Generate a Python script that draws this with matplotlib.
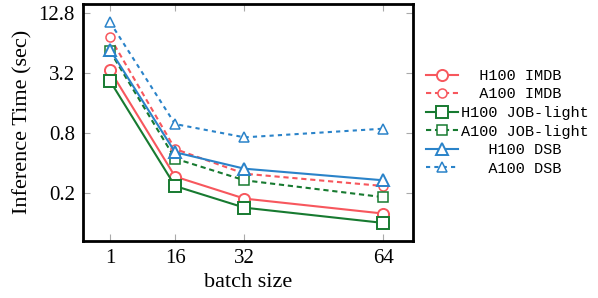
import matplotlib
matplotlib.use("Agg")
import matplotlib.pyplot as plt
from matplotlib.ticker import FixedLocator, FixedFormatter, NullLocator

batch = [1, 16, 32, 64]
h100_imdb = [3.4, 0.29, 0.174, 0.123]
a100_imdb = [7.3, 0.55, 0.31, 0.233]
h100_job = [2.66, 0.233, 0.141, 0.099]
a100_job = [5.3, 0.44, 0.266, 0.18]
h100_dsb = [5.5, 0.51, 0.348, 0.266]
a100_dsb = [10.4, 0.98, 0.72, 0.88]

yticks = [0.2, 0.8, 3.2, 12.8]
ytick_labels = ["0.2", "0.8", "3.2", "12.8"]

RED = "#f7575d"
GREEN = "#177a30"
BLUE = "#2a83c9"

fig = plt.figure(figsize=(5.98, 2.98), dpi=100)
ax = fig.add_axes([0.139, 0.191, 0.552, 0.797])

# (values, label, colour, line style, marker, marker size)
series = [
    (h100_imdb, "H100 IMDB", RED, "-", "o", 8),
    (a100_imdb, "A100 IMDB", RED, (0, (2.5, 1.8)), "o", 6.5),
    (h100_job, "H100 JOB-light", GREEN, "-", "s", 8),
    (a100_job, "A100 JOB-light", GREEN, (0, (2.5, 1.8)), "s", 6.5),
    (h100_dsb, "H100 DSB", BLUE, "-", "^", 8),
    (a100_dsb, "A100 DSB", BLUE, (0, (2.0, 2.0)), "^", 6.5),
]
for vals, lab, col, ls, mk, ms in series:
    dashed = ls != "-"
    ax.plot(batch, vals, color=col, linestyle=ls, linewidth=1.5,
            marker=mk, markersize=ms, markerfacecolor="white",
            markeredgecolor=col, markeredgewidth=1.1 if dashed else 1.4,
            label=lab.center(14))

ax.set_yscale("log", base=2)
ax.set_ylim(0.065, 16.0)
ax.set_xlim(-5.2, 70.9)
ax.yaxis.set_major_locator(FixedLocator(yticks))
ax.yaxis.set_major_formatter(FixedFormatter(ytick_labels))
ax.yaxis.set_minor_locator(NullLocator())
ax.set_xticks(batch)
ax.set_xticklabels([str(b) for b in batch])

serif = ["Liberation Serif", "DejaVu Serif"]
for t in ax.get_xticklabels() + ax.get_yticklabels():
    t.set_family(serif)
    t.set_fontsize(15)
ax.tick_params(direction="in", length=5, width=0.8, color="#aaaaaa",
               top=True, right=True, pad=6)
for s in ax.spines.values():
    s.set_linewidth(2.0)

ax.set_xlabel("batch size", family=serif, fontsize=16, labelpad=3)
ax.set_ylabel("Inference Time (sec)", family=serif, fontsize=16, labelpad=4)

leg = ax.legend(loc="center left", bbox_to_anchor=(1.005, 0.5), frameon=False,
                prop={"family": ["Liberation Mono", "DejaVu Sans Mono"], "size": 11},
                handlelength=2.1, handletextpad=0.25, labelspacing=0.3,
                borderaxespad=0.3)

fig.savefig("out.png", dpi=100)
